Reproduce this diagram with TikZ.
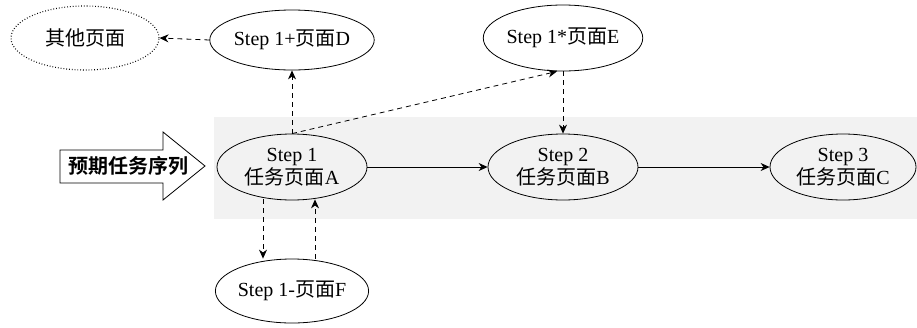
\documentclass[tikz,border=0pt]{standalone}
\usepackage{fontspec}
\setmainfont{Liberation Serif}
\newfontfamily\cjk{Noto Sans CJK SC}
\newfontfamily\cjkb{Noto Sans CJK SC Bold}
\usetikzlibrary{shapes.geometric,arrows.meta}
\begin{document}
\begin{tikzpicture}[x=1pt,y=-1pt,
  page/.style={ellipse,draw,line width=0.8pt,minimum width=150pt,minimum height=64pt,inner sep=0pt,font=\fontsize{20}{23}\selectfont,align=center},
  solidarrow/.style={line width=0.8pt,-{Stealth[length=9pt,width=8pt]}},
  dasharrow/.style={line width=0.8pt,dash pattern=on 5pt off 4pt,-{Stealth[length=9pt,width=8pt]}}
]
\useasboundingbox (0,0) rectangle (917,327);
\fill[black!5] (214,117) rectangle (917,219);
\node[page,dotted,line width=1.1pt,minimum width=148pt,minimum height=64pt] (other) at (85,38) {{\cjk 其他页面}};
\node[page,minimum height=60pt] (D) at (292,40) {Step 1+{\cjk 页面}D};
\node[page,minimum height=66pt] (E) at (563,38) {Step 1*{\cjk 页面}E};
\node[page,minimum height=66pt] (A) at (292,167) {Step 1\\{\cjk 任务页面}A};
\node[page,minimum height=66pt] (B) at (563,167) {Step 2\\{\cjk 任务页面}B};
\node[page,minimum height=66pt,minimum width=146pt] (C) at (843,167) {Step 3\\{\cjk 任务页面}C};
\node[page,minimum height=64pt] (F) at (292,291) {Step 1-{\cjk 页面}F};
\draw[line width=0.8pt,fill=white] (60,150) -- (163,150) -- (163,132) -- (205,166) -- (163,200) -- (163,183) -- (60,183) -- cycle;
\node[font=\cjkb\fontsize{20}{22}\selectfont,inner sep=0pt] (seq) at (128,166) {预期任务序列};
\draw[dasharrow] (D.west) -- (other.east);
\draw[dasharrow] (A.north) -- (D.south);
\draw[dasharrow] (A.north) -- ([xshift=-6pt]E.south);
\draw[dasharrow] (E.south) -- (B.north);
\draw[solidarrow] (A.east) -- (B.west);
\draw[solidarrow] (B.east) -- (C.west);
\coordinate (a1) at (263,167);
\coordinate (a2) at (315,167);
\draw[dasharrow] (A.south -| a1) ++(0,-1) -- (F.north -| a1);
\draw[dasharrow] (F.north -| a2) -- ([yshift=1pt]A.south -| a2);
\end{tikzpicture}
\end{document}
